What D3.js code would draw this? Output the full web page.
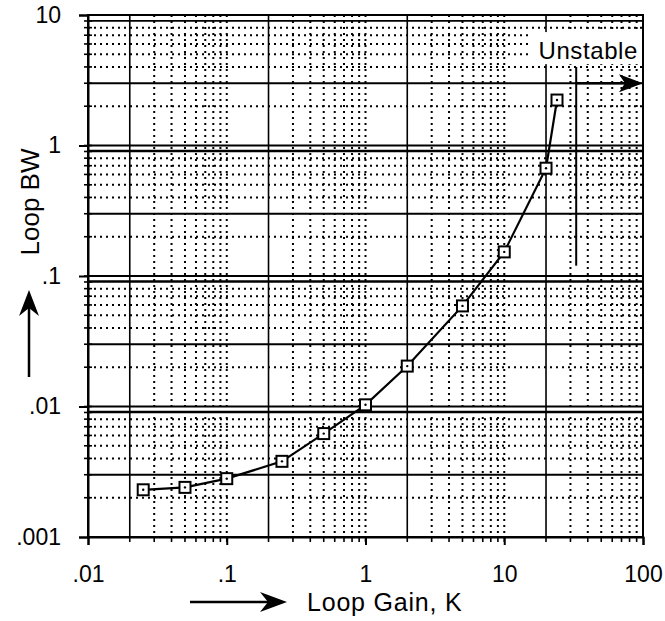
<!DOCTYPE html>
<html>
<head>
<meta charset="utf-8">
<script src="https://cdn.jsdelivr.net/npm/d3@7"></script>
<style>
  body { margin: 0; background: #fff; }
  text { font-family: "Liberation Sans", Arial, sans-serif; fill: #000; }
</style>
</head>
<body>
<script>
// loop gain K vs loop bandwidth
const gainK = [0.025, 0.05, 0.1, 0.25, 0.5, 1, 2, 5, 10, 20, 24];
const loopBW = [0.0023, 0.0024, 0.0028, 0.0038, 0.0062, 0.0103, 0.0204, 0.059, 0.153, 0.67, 2.23];

const xTicks = [0.01, 0.1, 1, 10, 100];
const xTickLabels = [".01", ".1", "1", "10", "100"];
const yTicks = [0.001, 0.01, 0.1, 1, 10];
const yTickLabels = [".001", ".01", ".1", "1", "10"];

const unstableK = 33;

const width = 665;
const height = 621;

const svg = d3
  .select("body")
  .append("svg")
  .attr("width", width)
  .attr("height", height);

const x = d3.scaleLog().domain([0.01, 100]).range([88, 643]);
const y = d3.scaleLog().domain([0.001, 10]).range([537, 15]);

// minor values per decade
const minorX = [];
const minorY = [];
for (let e = -3; e <= 1; e++) {
  for (let m = 1; m <= 9; m++) {
    const v = m * Math.pow(10, e);
    if (v > 0.01 && v < 100) minorX.push({ v: v, m: m });
    if (v > 0.001 && v < 10) minorY.push({ v: v, m: m });
  }
}

const solidY = (d) => d.m === 1 || d.m === 3 || d.m === 9;

const grid = svg.append("g");

grid
  .selectAll(".vgrid")
  .data(minorX)
  .enter()
  .append("line")
  .attr("x1", (d) => x(d.v))
  .attr("x2", (d) => x(d.v))
  .attr("y1", y(10))
  .attr("y2", y(0.001))
  .attr("stroke", "#000")
  .attr("stroke-width", (d) => (d.m === 2 ? 1.6 : 2))
  .attr("stroke-dasharray", (d) => (d.m === 2 ? null : "2,4"));

grid
  .selectAll(".hgrid")
  .data(minorY)
  .enter()
  .append("line")
  .attr("x1", x(0.01))
  .attr("x2", x(100))
  .attr("y1", (d) => y(d.v))
  .attr("y2", (d) => y(d.v))
  .attr("stroke", "#000")
  .attr("stroke-width", (d) => (solidY(d) ? 1.8 : 2))
  .attr("stroke-dasharray", (d) => (solidY(d) ? null : "2,4"));

// second rule just under each decade line, as on the printed paper
grid
  .selectAll(".hdouble")
  .data(minorY.filter((d) => d.m === 1))
  .enter()
  .append("line")
  .attr("x1", x(0.01))
  .attr("x2", x(100))
  .attr("y1", (d) => y(d.v) + 5)
  .attr("y2", (d) => y(d.v) + 5)
  .attr("stroke", "#000")
  .attr("stroke-width", 1.6);

// frame
svg
  .append("rect")
  .attr("x", x(0.01))
  .attr("y", y(10))
  .attr("width", x(100) - x(0.01))
  .attr("height", y(0.001) - y(10))
  .attr("fill", "none")
  .attr("stroke", "#000")
  .attr("stroke-width", 2);

// axes
const xAxis = svg
  .append("g")
  .attr("transform", `translate(0,${y(0.001)})`)
  .call(
    d3
      .axisBottom(x)
      .tickValues(xTicks)
      .tickFormat((d, i) => xTickLabels[i])
      .tickSize(8)
      .tickPadding(21)
  );
xAxis.select(".domain").attr("stroke-width", 2);
xAxis.selectAll(".tick line").attr("stroke-width", 2);
xAxis.selectAll("text").style("font-size", "23px").style("font-family", "Liberation Sans, Arial, sans-serif");

svg
  .append("g")
  .selectAll("line")
  .data(minorX)
  .enter()
  .append("line")
  .attr("x1", (d) => x(d.v))
  .attr("x2", (d) => x(d.v))
  .attr("y1", y(0.001))
  .attr("y2", y(0.001) + 5)
  .attr("stroke", "#000")
  .attr("stroke-width", 1.6);

const yAxis = svg
  .append("g")
  .attr("transform", `translate(${x(0.01)},0)`)
  .call(
    d3
      .axisLeft(y)
      .tickValues(yTicks)
      .tickFormat((d, i) => yTickLabels[i])
      .tickSize(9)
      .tickPadding(18)
  );
yAxis.select(".domain").attr("stroke-width", 2);
yAxis.selectAll(".tick line").attr("stroke-width", 2);
yAxis.selectAll("text").style("font-size", "23px").style("font-family", "Liberation Sans, Arial, sans-serif");

svg
  .append("g")
  .selectAll("line")
  .data(minorY)
  .enter()
  .append("line")
  .attr("x1", x(0.01) - 4)
  .attr("x2", x(0.01) + 4)
  .attr("y1", (d) => y(d.v))
  .attr("y2", (d) => y(d.v))
  .attr("stroke", "#000")
  .attr("stroke-width", 1.6);

// unstable marker
svg
  .append("rect")
  .attr("x", 530)
  .attr("y", y(7.4))
  .attr("width", x(100) - 531)
  .attr("height", y(4.2) - y(7.4))
  .attr("fill", "#fff");

svg
  .append("text")
  .attr("x", 638)
  .attr("y", y(4.6))
  .attr("text-anchor", "end")
  .style("font-size", "24px")
  .style("letter-spacing", "0.6px")
  .text("Unstable");

svg
  .append("line")
  .attr("x1", x(unstableK))
  .attr("x2", x(unstableK))
  .attr("y1", y(4))
  .attr("y2", y(0.12))
  .attr("stroke", "#000")
  .attr("stroke-width", 2);

svg
  .append("line")
  .attr("x1", x(unstableK))
  .attr("x2", x(100) - 6)
  .attr("y1", y(3))
  .attr("y2", y(3))
  .attr("stroke", "#000")
  .attr("stroke-width", 2.5);

svg
  .append("path")
  .attr("d", `M${x(100)},${y(3)} l-24,-9 l6,9 l-6,9 z`)
  .attr("fill", "#000");

// curve
const pts = gainK.map((k, i) => [k, loopBW[i]]);

svg
  .append("path")
  .datum(pts)
  .attr("d", d3.line().x((d) => x(d[0])).y((d) => y(d[1])))
  .attr("fill", "none")
  .attr("stroke", "#000")
  .attr("stroke-width", 2.2);

const marks = svg
  .append("g")
  .selectAll("g")
  .data(pts)
  .enter()
  .append("g")
  .attr("transform", (d) => `translate(${x(d[0])},${y(d[1])})`);

marks
  .append("rect")
  .attr("x", -5.5)
  .attr("y", -5.5)
  .attr("width", 11)
  .attr("height", 11)
  .attr("fill", "#fff")
  .attr("stroke", "#000")
  .attr("stroke-width", 2);

marks
  .append("circle")
  .attr("r", 1.2)
  .attr("fill", "#000");

// axis titles
svg
  .append("text")
  .attr("transform", "translate(39,202) rotate(-90)")
  .attr("text-anchor", "middle")
  .style("font-size", "26px")
  .text("Loop BW");

svg
  .append("line")
  .attr("x1", 29)
  .attr("x2", 29)
  .attr("y1", 377)
  .attr("y2", 305)
  .attr("stroke", "#000")
  .attr("stroke-width", 2.5);

svg
  .append("path")
  .attr("d", "M29,290 l-10,26 l10,-8 l10,8 z")
  .attr("fill", "#000");

svg
  .append("text")
  .attr("x", 307)
  .attr("y", 611)
  .style("font-size", "25px")
  .style("letter-spacing", "0.8px")
  .text("Loop Gain, K");

svg
  .append("line")
  .attr("x1", 190)
  .attr("x2", 272)
  .attr("y1", 602)
  .attr("y2", 602)
  .attr("stroke", "#000")
  .attr("stroke-width", 2.5);

svg
  .append("path")
  .attr("d", "M287,602 l-27,-10 l8,10 l-8,10 z")
  .attr("fill", "#000");
</script>
</body>
</html>
